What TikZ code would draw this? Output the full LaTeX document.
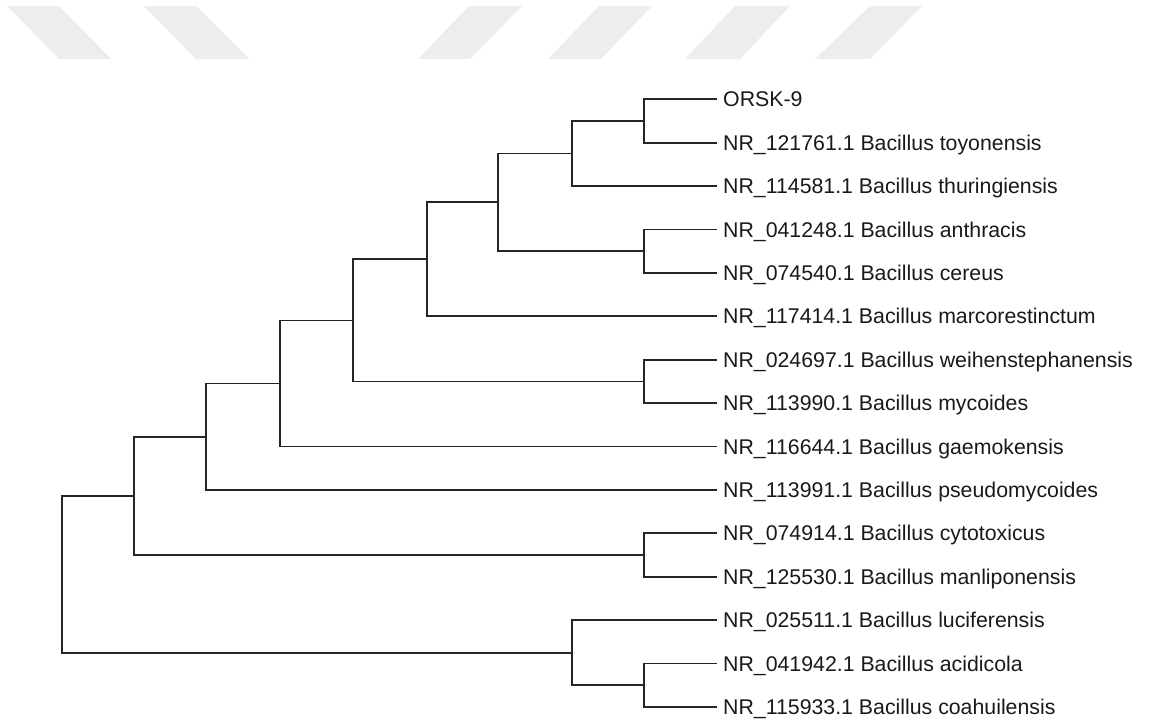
\documentclass[tikz,border=0pt]{standalone}
\usepackage{fontspec}
\setmainfont{Liberation Sans}
\begin{document}
\begin{tikzpicture}[x=1pt,y=-1pt,
  branch/.style={line width=1.8pt,draw=black!85,line cap=rect},
  lab/.style={anchor=base west,inner sep=0pt,text=black!90,font=\fontsize{21.3}{25}\selectfont},
  wm/.style={fill=black!7,draw=none}]
\useasboundingbox (0,0) rectangle (1149,722);
% watermark
\fill[wm] (7,6) -- (59,6) -- (111,59) -- (59,59) -- cycle;
\fill[wm] (144,6) -- (196,6) -- (249,59) -- (196,59) -- cycle;
\fill[wm] (469,6) -- (522,6) -- (470,59) -- (418,59) -- cycle;
\fill[wm] (599,6) -- (652,6) -- (601,59) -- (548,59) -- cycle;
\fill[wm] (735,6) -- (790,6) -- (740,59) -- (685,59) -- cycle;
\fill[wm] (870,6) -- (922,6) -- (870,59) -- (815,59) -- cycle;
% tips
\foreach \i/\yy in {1/99.3,2/142.7,3/186.1,4/229.5,5/272.9,6/316.3,7/359.7,8/403.1,9/446.5,10/489.9,11/533.3,12/576.7,13/620.1,14/663.5,15/706.9}
  \coordinate (t\i) at (716,\yy);
\node[lab] (n1)  at ([xshift=7pt,yshift=-7.6pt]t1)  {ORSK-9};
\node[lab] (n2)  at ([xshift=7pt,yshift=-7.6pt]t2)  {NR\_121761.1 Bacillus toyonensis};
\node[lab] (n3)  at ([xshift=7pt,yshift=-7.6pt]t3)  {NR\_114581.1 Bacillus thuringiensis};
\node[lab] (n4)  at ([xshift=7pt,yshift=-7.6pt]t4)  {NR\_041248.1 Bacillus anthracis};
\node[lab] (n5)  at ([xshift=7pt,yshift=-7.6pt]t5)  {NR\_074540.1 Bacillus cereus};
\node[lab] (n6)  at ([xshift=7pt,yshift=-7.6pt]t6)  {NR\_117414.1 Bacillus marcorestinctum};
\node[lab] (n7)  at ([xshift=7pt,yshift=-7.6pt]t7)  {NR\_024697.1 Bacillus weihenstephanensis};
\node[lab] (n8)  at ([xshift=7pt,yshift=-7.6pt]t8)  {NR\_113990.1 Bacillus mycoides};
\node[lab] (n9)  at ([xshift=7pt,yshift=-7.6pt]t9)  {NR\_116644.1 Bacillus gaemokensis};
\node[lab] (n10) at ([xshift=7pt,yshift=-7.6pt]t10) {NR\_113991.1 Bacillus pseudomycoides};
\node[lab] (n11) at ([xshift=7pt,yshift=-7.6pt]t11) {NR\_074914.1 Bacillus cytotoxicus};
\node[lab] (n12) at ([xshift=7pt,yshift=-7.6pt]t12) {NR\_125530.1 Bacillus manliponensis};
\node[lab] (n13) at ([xshift=7pt,yshift=-7.6pt]t13) {NR\_025511.1 Bacillus luciferensis};
\node[lab] (n14) at ([xshift=7pt,yshift=-7.6pt]t14) {NR\_041942.1 Bacillus acidicola};
\node[lab] (n15) at ([xshift=7pt,yshift=-7.6pt]t15) {NR\_115933.1 Bacillus coahuilensis};
% internal nodes
\coordinate (A) at (644,121.0);
\coordinate (B) at (572,153.55);
\coordinate (C) at (644,251.2);
\coordinate (D) at (498,202.4);
\coordinate (E) at (427,259.35);
\coordinate (F) at (644,381.4);
\coordinate (G) at (353,320.4);
\coordinate (H) at (280,383.45);
\coordinate (I) at (206,436.7);
\coordinate (J) at (644,555.0);
\coordinate (K) at (134,495.85);
\coordinate (L) at (644,685.2);
\coordinate (M) at (572,652.65);
\coordinate (R) at (62,574.25);
% branches
\draw[branch] (t1) -| (A) |- (t2);
\draw[branch] (A) -| (B) |- (t3);
\draw[branch] (t4) -| (C) |- (t5);
\draw[branch] (B) -| (D) |- (C);
\draw[branch] (D) -| (E) |- (t6);
\draw[branch] (t7) -| (F) |- (t8);
\draw[branch] (E) -| (G) |- (F);
\draw[branch] (G) -| (H) |- (t9);
\draw[branch] (H) -| (I) |- (t10);
\draw[branch] (t11) -| (J) |- (t12);
\draw[branch] (I) -| (K) |- (J);
\draw[branch] (t14) -| (L) |- (t15);
\draw[branch] (t13) -| (M) |- (L);
\draw[branch] (K) -| (R) |- (M);
\end{tikzpicture}
\end{document}
